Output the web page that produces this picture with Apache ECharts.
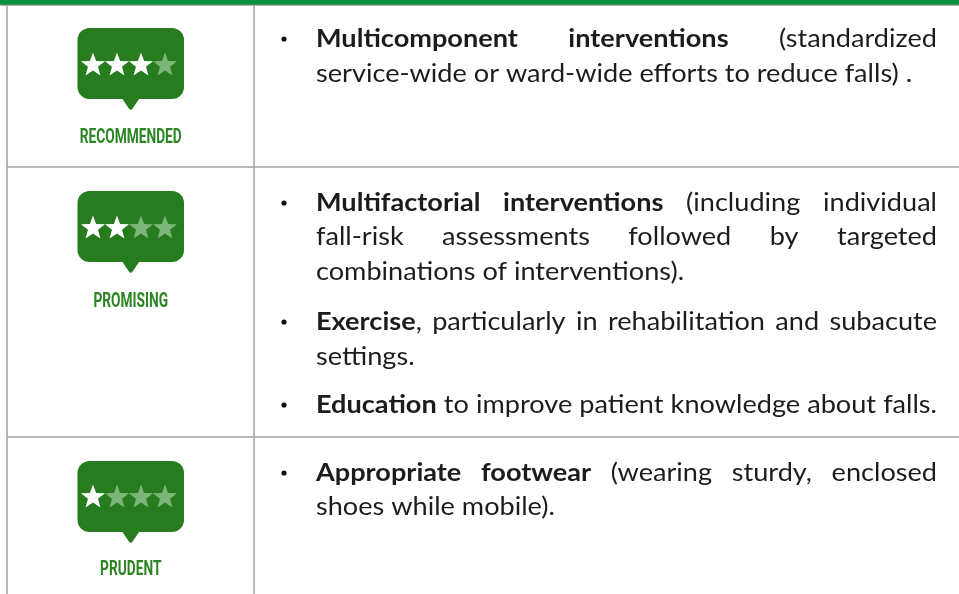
<!DOCTYPE html>
<html><head><meta charset="utf-8">
<style>html,body{margin:0;padding:0;background:#fff}#c{width:959px;height:594px}</style>
<script src="https://cdn.jsdelivr.net/npm/echarts@6/dist/echarts.min.js"></script>
</head><body><div id="c"></div>
<script>
const ratingLabels = ['RECOMMENDED','PROMISING','PRUDENT'];
const ratingStars = [3,2,1];
const starSlots = ['1','2','3','4'];
// Each line: [text with **bold** words marked, justified?]
const row1Lines = [['*Multicomponent *interventions (standardized',1],['service-wide or ward-wide efforts to reduce falls) .',0]];
const row2Lines = [['*Multifactorial *interventions (including individual',1],['fall-risk assessments followed by targeted',1],['combinations of interventions).',0],
  ['*Exercise, particularly in rehabilitation and subacute',1],['settings.',0],['*Education to improve patient knowledge about falls.',1]];
const row3Lines = [['*Appropriate *footwear (wearing sturdy, enclosed',1],['shoes while mobile).',0]];

// layout only
const L = {
  bubbleY:[28,191,461], starY:[64,227,496], labelY:[138,302,570],
  bubbleX:77.5, bubbleW:106.5, bubbleH:71, tail:11, tailW:9,
  lineY:[[39,74],[203,237,272,322,357,405],[473,507]], bulletOn:[[0],[0,3,5],[0]],
  textX:316, textR:937, bulletX:284, vx:[7,254], hy:[167,437],
  font:'Lato', size:25.5, textColor:'#1c1c1c', grey:'#a3a3a3', green:'#267c1e', labelGreen:'#2b8523', dim:'#7db57a', bar:'#0a8f3c'
};
const ctx = document.createElement('canvas').getContext('2d');
const fontOf = b => (b?'700 ':'400 ')+L.size+'px '+L.font;
function measure(t,b){ctx.font=fontOf(b);return ctx.measureText(t).width;}
function parse(s){ // words; word with leading * is bold
  return s.split(' ').map(w=>{
    if(w[0]==='*'){
      const m=w.slice(1);
      // trailing comma after a bold word is regular
      return {t:m.replace(/,$/,''),b:true,tail:m.endsWith(',')?',':''};
    }
    return {t:w,b:false,tail:''};
  });
}
const refNatural = (()=>{const ws=parse(row2Lines[5][0]);let w=ws.reduce((a,x)=>a+measure(x.t,x.b)+(x.tail?measure(x.tail,0):0),0);return w+(ws.length-1)*measure(' ',0);})();
const hs = 620/refNatural;
const g = [];
g.push({type:'rect',shape:{x:0,y:0,width:959,height:5},style:{fill:L.bar},z:1});
g.push({type:'rect',shape:{x:0,y:4.6,width:959,height:1.2},style:{fill:'#7f9c88'},z:1});
L.vx.forEach(x=>g.push({type:'rect',shape:{x:x-0.7,y:5,width:1.5,height:589},style:{fill:L.grey},z:1}));
L.hy.forEach(y=>g.push({type:'rect',shape:{x:7,y:y-0.7,width:952,height:1.5},style:{fill:L.grey},z:1}));
const cx = L.bubbleX+L.bubbleW/2;
ratingLabels.forEach((lab,i)=>{
  const y=L.bubbleY[i];
  g.push({type:'rect',shape:{x:L.bubbleX,y,width:L.bubbleW,height:L.bubbleH,r:12},style:{fill:L.green},z:1});
  g.push({type:'polygon',shape:{points:[[cx-L.tailW,y+L.bubbleH-1],[cx+L.tailW,y+L.bubbleH-1],[cx+1.5,y+L.bubbleH+L.tail-1],[cx,y+L.bubbleH+L.tail],[cx-1.5,y+L.bubbleH+L.tail-1]]},style:{fill:L.green},z:1});
  ctx.font='700 21px Roboto';
  const sx=102/ctx.measureText(ratingLabels[0]).width;
  g.push({type:'text',x:cx,y:L.labelY[i],scaleX:sx,z:3,style:{text:lab,x:0,y:0,font:'700 21px Roboto',fill:L.labelGreen,align:'center',verticalAlign:'middle'}});
});
[row1Lines,row2Lines,row3Lines].forEach((lines,r)=>{
  lines.forEach((ln,i)=>{
    const y=L.lineY[r][i], ws=parse(ln[0]);
    if(L.bulletOn[r].includes(i)) g.push({type:'circle',shape:{cx:L.bulletX,cy:y,r:2.6},style:{fill:'#111'},z:3});
    const widths=ws.map(w=>(measure(w.t,w.b)+(w.tail?measure(w.tail,0):0))*hs);
    const total=widths.reduce((a,b)=>a+b,0);
    const gap=ln[1]&&ws.length>1?(L.textR-L.textX-total)/(ws.length-1):measure(' ',0)*hs;
    let x=L.textX;
    ws.forEach((w,k)=>{
      g.push({type:'text',x,y,scaleX:hs,z:3,style:{text:w.t,x:0,y:0,font:fontOf(w.b),fill:L.textColor,align:'left',verticalAlign:'middle'}});
      if(w.tail) g.push({type:'text',x:x+measure(w.t,w.b)*hs,y,scaleX:hs,z:3,style:{text:w.tail,x:0,y:0,font:fontOf(0),fill:L.textColor,align:'left',verticalAlign:'middle'}});
      x+=widths[k]+gap;
    });
  });
});
// star symbol
let star='path://';
for(let k=0;k<10;k++){const rr=k%2?0.42:1,a=-Math.PI/2+k*Math.PI/5;star+=(k?'L':'M')+(rr*Math.cos(a)).toFixed(3)+' '+(rr*Math.sin(a)).toFixed(3);}
star+='Z';
const grids=[],xAxis=[],yAxis=[],series=[];
ratingStars.forEach((n,i)=>{
  grids.push({left:81,width:96,top:L.starY[i]-12,height:24});
  xAxis.push({type:'category',gridIndex:i,data:starSlots,show:false});
  yAxis.push({type:'value',gridIndex:i,min:0,max:2,show:false});
  series.push({type:'scatter',xAxisIndex:i,yAxisIndex:i,symbol:star,symbolSize:24,symbolKeepAspect:true,silent:true,z:5,animation:false,
    data:starSlots.map((s,k)=>({value:[k,1],itemStyle:{color:k<n?'#ffffff':L.dim,opacity:1}}))});
});
echarts.init(document.getElementById('c'),null,{renderer:'canvas'}).setOption({animation:false,backgroundColor:'#fff',grid:grids,xAxis,yAxis,series,graphic:{elements:g}});
</script></body></html>
